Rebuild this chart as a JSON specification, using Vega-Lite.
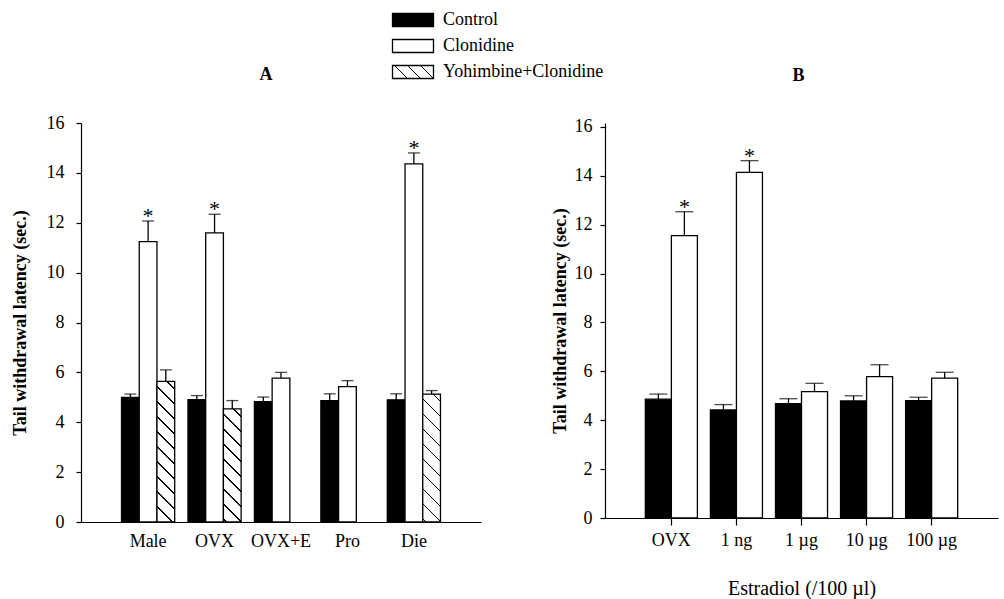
{
  "$schema": "https://vega.github.io/schema/vega-lite/v6.json",
  "background": "white",
  "padding": {"left": 11, "top": 7, "right": 5, "bottom": 5},
  "config": {
    "font": "Liberation Serif",
    "view": {"stroke": null},
    "axis": {"domainColor": "black", "tickColor": "black", "labelColor": "black", "titleColor": "black", "grid": false, "labelFont": "Liberation Serif", "titleFont": "Liberation Serif", "domainWidth": 1.2, "tickWidth": 1.2},
    "title": {"font": "Liberation Serif", "color": "black"},
    "legend": {"labelFont": "Liberation Serif", "labelColor": "black"}
  },
  "datasets": {
    "A": [
      {"group": "Male", "treatment": "Control", "mean": 5.00, "upper": 5.13, "sig": ""},
      {"group": "Male", "treatment": "Clonidine", "mean": 11.24, "upper": 12.07, "sig": "*"},
      {"group": "Male", "treatment": "Yohimbine+Clonidine", "mean": 5.64, "upper": 6.10, "sig": ""},
      {"group": "OVX", "treatment": "Control", "mean": 4.91, "upper": 5.07, "sig": ""},
      {"group": "OVX", "treatment": "Clonidine", "mean": 11.59, "upper": 12.34, "sig": "*"},
      {"group": "OVX", "treatment": "Yohimbine+Clonidine", "mean": 4.54, "upper": 4.87, "sig": ""},
      {"group": "OVX+E", "treatment": "Control", "mean": 4.83, "upper": 5.01, "sig": ""},
      {"group": "OVX+E", "treatment": "Clonidine", "mean": 5.77, "upper": 6.00, "sig": ""},
      {"group": "Pro", "treatment": "Control", "mean": 4.87, "upper": 5.14, "sig": ""},
      {"group": "Pro", "treatment": "Clonidine", "mean": 5.43, "upper": 5.67, "sig": ""},
      {"group": "Die", "treatment": "Control", "mean": 4.90, "upper": 5.14, "sig": ""},
      {"group": "Die", "treatment": "Clonidine", "mean": 14.36, "upper": 14.80, "sig": "*"},
      {"group": "Die", "treatment": "Yohimbine+Clonidine", "mean": 5.13, "upper": 5.27, "sig": ""}
    ],
    "B": [
      {"group": "OVX", "treatment": "Control", "mean": 4.86, "upper": 5.07, "sig": ""},
      {"group": "OVX", "treatment": "Clonidine", "mean": 11.55, "upper": 12.53, "sig": "*"},
      {"group": "1 ng", "treatment": "Control", "mean": 4.42, "upper": 4.64, "sig": ""},
      {"group": "1 ng", "treatment": "Clonidine", "mean": 14.14, "upper": 14.62, "sig": "*"},
      {"group": "1 µg", "treatment": "Control", "mean": 4.68, "upper": 4.88, "sig": ""},
      {"group": "1 µg", "treatment": "Clonidine", "mean": 5.17, "upper": 5.51, "sig": ""},
      {"group": "10 µg", "treatment": "Control", "mean": 4.79, "upper": 5.00, "sig": ""},
      {"group": "10 µg", "treatment": "Clonidine", "mean": 5.78, "upper": 6.27, "sig": ""},
      {"group": "100 µg", "treatment": "Control", "mean": 4.80, "upper": 4.94, "sig": ""},
      {"group": "100 µg", "treatment": "Clonidine", "mean": 5.72, "upper": 5.96, "sig": ""}
    ]
  },
  "spacing": 70,
  "resolve": {"scale": {"fill": "shared", "xOffset": "independent", "x": "independent", "y": "independent"}, "legend": {"fill": "shared"}},
  "hconcat": [
    {
      "width": 400,
      "height": 399,
      "title": {"text": "A", "fontSize": 18, "fontWeight": "bold", "offset": 30, "dx": -15},
      "data": {"name": "A"},
      "encoding": {
        "x": {"field": "group", "type": "nominal", "sort": ["Male", "OVX", "OVX+E", "Pro", "Die"],
              "scale": {"paddingInner": 0.2, "paddingOuter": 0.61},
              "axis": {"title": null, "labelAngle": 0, "ticks": false, "labelPadding": 10, "labelFontSize": 18}},
        "xOffset": {"field": "treatment", "type": "nominal",
                    "scale": {"domain": ["Control", "Clonidine", "Yohimbine+Clonidine"], "paddingInner": 0, "paddingOuter": 0}}
      },
      "layer": [
        {
          "mark": {"type": "bar", "stroke": "black", "strokeWidth": 1.3},
          "encoding": {
            "y": {"field": "mean", "type": "quantitative", "scale": {"domain": [0, 16], "nice": false},
                  "axis": {"title": "Tail withdrawal latency (sec.)", "titleFontSize": 18, "titleFontWeight": "bold", "titlePadding": 17,
                           "labelFontSize": 18, "values": [0, 2, 4, 6, 8, 10, 12, 14, 16], "tickSize": 5, "labelPadding": 12}},
            "fill": {
              "field": "treatment", "type": "nominal",
              "scale": {"domain": ["Control", "Clonidine", "Yohimbine+Clonidine"], "range": ["black", "white", {"expr": "{gradient: 'linear', x1: 1, y1: 0, x2: -0.19676, y2: 0.37946, stops: [{offset: 0, color: 'white'}, {offset: 0.22374, color: 'white'}, {offset: 0.22374, color: 'black'}, {offset: 0.25774, color: 'black'}, {offset: 0.25774, color: 'white'}, {offset: 0.46448, color: 'white'}, {offset: 0.46448, color: 'black'}, {offset: 0.49848, color: 'black'}, {offset: 0.49848, color: 'white'}, {offset: 0.70522, color: 'white'}, {offset: 0.70522, color: 'black'}, {offset: 0.73922, color: 'black'}, {offset: 0.73922, color: 'white'}, {offset: 1, color: 'white'}]}"}]},
              "legend": {
                "title": null, "orient": "none", "legendX": 319, "legendY": -116, "padding": 0,
                "symbolType": "M-1.708,-0.542H1.708V0.542H-1.708Z", "symbolSize": 576,
                "symbolStrokeColor": "black", "symbolStrokeWidth": 1.3,
                "labelFontSize": 18, "labelOffset": 17, "rowPadding": 3, "labelLimit": 400,
                "encode": {"symbols": {"update": {"stroke": {"value": "black"}, "strokeWidth": {"value": 1.3}}}}
              },
              "condition": [
                {"test": "datum.group === 'Male' && datum.treatment === 'Yohimbine+Clonidine'", "value": {"gradient": "linear", "x1": 1, "y1": 0, "x2": 0.8603, "y2": 1.1084, "stops": [
                  {"offset": 0, "color": "white"},
                  {"offset": 0.04134, "color": "white"}, {"offset": 0.04134, "color": "black"}, {"offset": 0.05334, "color": "black"}, {"offset": 0.05334, "color": "white"},
                  {"offset": 0.13602, "color": "white"}, {"offset": 0.13602, "color": "black"}, {"offset": 0.14802, "color": "black"}, {"offset": 0.14802, "color": "white"},
                  {"offset": 0.23070, "color": "white"}, {"offset": 0.23070, "color": "black"}, {"offset": 0.24270, "color": "black"}, {"offset": 0.24270, "color": "white"},
                  {"offset": 0.32538, "color": "white"}, {"offset": 0.32538, "color": "black"}, {"offset": 0.33738, "color": "black"}, {"offset": 0.33738, "color": "white"},
                  {"offset": 0.42006, "color": "white"}, {"offset": 0.42006, "color": "black"}, {"offset": 0.43206, "color": "black"}, {"offset": 0.43206, "color": "white"},
                  {"offset": 0.51473, "color": "white"}, {"offset": 0.51473, "color": "black"}, {"offset": 0.52673, "color": "black"}, {"offset": 0.52673, "color": "white"},
                  {"offset": 0.60941, "color": "white"}, {"offset": 0.60941, "color": "black"}, {"offset": 0.62141, "color": "black"}, {"offset": 0.62141, "color": "white"},
                  {"offset": 0.70409, "color": "white"}, {"offset": 0.70409, "color": "black"}, {"offset": 0.71609, "color": "black"}, {"offset": 0.71609, "color": "white"},
                  {"offset": 0.79877, "color": "white"}, {"offset": 0.79877, "color": "black"}, {"offset": 0.81077, "color": "black"}, {"offset": 0.81077, "color": "white"},
                  {"offset": 0.89345, "color": "white"}, {"offset": 0.89345, "color": "black"}, {"offset": 0.90545, "color": "black"}, {"offset": 0.90545, "color": "white"},
                  {"offset": 1, "color": "white"}]}},
                {"test": "datum.group === 'OVX' && datum.treatment === 'Yohimbine+Clonidine'", "value": {"gradient": "linear", "x1": 1, "y1": 0, "x2": 0.8232, "y2": 1.1289, "stops": [
                  {"offset": 0, "color": "white"},
                  {"offset": 0.05028, "color": "white"}, {"offset": 0.05028, "color": "black"}, {"offset": 0.06428, "color": "black"}, {"offset": 0.06428, "color": "white"},
                  {"offset": 0.16485, "color": "white"}, {"offset": 0.16485, "color": "black"}, {"offset": 0.17885, "color": "black"}, {"offset": 0.17885, "color": "white"},
                  {"offset": 0.27941, "color": "white"}, {"offset": 0.27941, "color": "black"}, {"offset": 0.29341, "color": "black"}, {"offset": 0.29341, "color": "white"},
                  {"offset": 0.39398, "color": "white"}, {"offset": 0.39398, "color": "black"}, {"offset": 0.40798, "color": "black"}, {"offset": 0.40798, "color": "white"},
                  {"offset": 0.50855, "color": "white"}, {"offset": 0.50855, "color": "black"}, {"offset": 0.52255, "color": "black"}, {"offset": 0.52255, "color": "white"},
                  {"offset": 0.62311, "color": "white"}, {"offset": 0.62311, "color": "black"}, {"offset": 0.63711, "color": "black"}, {"offset": 0.63711, "color": "white"},
                  {"offset": 0.73768, "color": "white"}, {"offset": 0.73768, "color": "black"}, {"offset": 0.75168, "color": "black"}, {"offset": 0.75168, "color": "white"},
                  {"offset": 0.85224, "color": "white"}, {"offset": 0.85224, "color": "black"}, {"offset": 0.86624, "color": "black"}, {"offset": 0.86624, "color": "white"},
                  {"offset": 0.96680, "color": "white"}, {"offset": 0.96680, "color": "black"}, {"offset": 0.98080, "color": "black"}, {"offset": 0.98080, "color": "white"},
                  {"offset": 1, "color": "white"}]}},
                {"test": "datum.group === 'Die' && datum.treatment === 'Yohimbine+Clonidine'", "value": {"gradient": "linear", "x1": 1, "y1": 0, "x2": 0.8452, "y2": 1.1172, "stops": [
                  {"offset": 0, "color": "white"},
                  {"offset": 0.04549, "color": "white"}, {"offset": 0.04549, "color": "black"}, {"offset": 0.05749, "color": "black"}, {"offset": 0.05749, "color": "white"},
                  {"offset": 0.14846, "color": "white"}, {"offset": 0.14846, "color": "black"}, {"offset": 0.16046, "color": "black"}, {"offset": 0.16046, "color": "white"},
                  {"offset": 0.25143, "color": "white"}, {"offset": 0.25143, "color": "black"}, {"offset": 0.26343, "color": "black"}, {"offset": 0.26343, "color": "white"},
                  {"offset": 0.35440, "color": "white"}, {"offset": 0.35440, "color": "black"}, {"offset": 0.36640, "color": "black"}, {"offset": 0.36640, "color": "white"},
                  {"offset": 0.45737, "color": "white"}, {"offset": 0.45737, "color": "black"}, {"offset": 0.46937, "color": "black"}, {"offset": 0.46937, "color": "white"},
                  {"offset": 0.56035, "color": "white"}, {"offset": 0.56035, "color": "black"}, {"offset": 0.57235, "color": "black"}, {"offset": 0.57235, "color": "white"},
                  {"offset": 0.66332, "color": "white"}, {"offset": 0.66332, "color": "black"}, {"offset": 0.67532, "color": "black"}, {"offset": 0.67532, "color": "white"},
                  {"offset": 0.76629, "color": "white"}, {"offset": 0.76629, "color": "black"}, {"offset": 0.77829, "color": "black"}, {"offset": 0.77829, "color": "white"},
                  {"offset": 0.86927, "color": "white"}, {"offset": 0.86927, "color": "black"}, {"offset": 0.88127, "color": "black"}, {"offset": 0.88127, "color": "white"},
                  {"offset": 0.97224, "color": "white"}, {"offset": 0.97224, "color": "black"}, {"offset": 0.98424, "color": "black"}, {"offset": 0.98424, "color": "white"},
                  {"offset": 1, "color": "white"}]}}
              ]
            }
          }
        },
        {
          "mark": {"type": "rule", "color": "black", "strokeWidth": 1.3},
          "encoding": {"y": {"field": "mean", "type": "quantitative"}, "y2": {"field": "upper"}}
        },
        {
          "mark": {"type": "tick", "color": "black", "size": 12, "thickness": 1.3},
          "encoding": {"y": {"field": "upper", "type": "quantitative"}}
        },
        {
          "mark": {"type": "text", "fontSize": 22, "baseline": "alphabetic", "dy": 2, "color": "black"},
          "encoding": {"y": {"field": "upper", "type": "quantitative"}, "text": {"field": "sig"}}
        }
      ]
    },
    {
      "width": 393,
      "height": 395,
      "title": {"text": "B", "fontSize": 18, "fontWeight": "bold", "offset": 33, "dx": -3},
      "data": {"name": "B"},
      "encoding": {
        "x": {"field": "group", "type": "nominal", "sort": ["OVX", "1 ng", "1 µg", "10 µg", "100 µg"],
              "scale": {"paddingInner": 0.2, "paddingOuter": 0.62},
              "axis": {"title": "Estradiol (/100 µl)", "titleFontSize": 20, "titleFontWeight": "normal", "titlePadding": 29,
                       "labelAngle": 0, "ticks": true, "tickSize": 7, "labelPadding": 6, "labelFontSize": 18}},
        "xOffset": {"field": "treatment", "type": "nominal",
                    "scale": {"domain": ["Control", "Clonidine"], "paddingInner": 0, "paddingOuter": 0}}
      },
      "layer": [
        {
          "mark": {"type": "bar", "stroke": "black", "strokeWidth": 1.3},
          "encoding": {
            "y": {"field": "mean", "type": "quantitative", "scale": {"domain": [0, 16.16], "nice": false},
                  "axis": {"title": "Tail withdrawal latency (sec.)", "titleFontSize": 18, "titleFontWeight": "bold", "titlePadding": 5,
                           "labelFontSize": 18, "values": [0, 2, 4, 6, 8, 10, 12, 14, 16], "tickSize": 5, "labelPadding": 8}},
            "fill": {"field": "treatment", "type": "nominal",
                     "scale": {"domain": ["Control", "Clonidine", "Yohimbine+Clonidine"]}}
          }
        },
        {
          "mark": {"type": "rule", "color": "black", "strokeWidth": 1.3},
          "encoding": {"y": {"field": "mean", "type": "quantitative"}, "y2": {"field": "upper"}}
        },
        {
          "mark": {"type": "tick", "color": "black", "size": 18, "thickness": 1.3},
          "encoding": {"y": {"field": "upper", "type": "quantitative"}}
        },
        {
          "mark": {"type": "text", "fontSize": 22, "baseline": "alphabetic", "dy": 2, "color": "black"},
          "encoding": {"y": {"field": "upper", "type": "quantitative"}, "text": {"field": "sig"}}
        }
      ]
    }
  ]
}
